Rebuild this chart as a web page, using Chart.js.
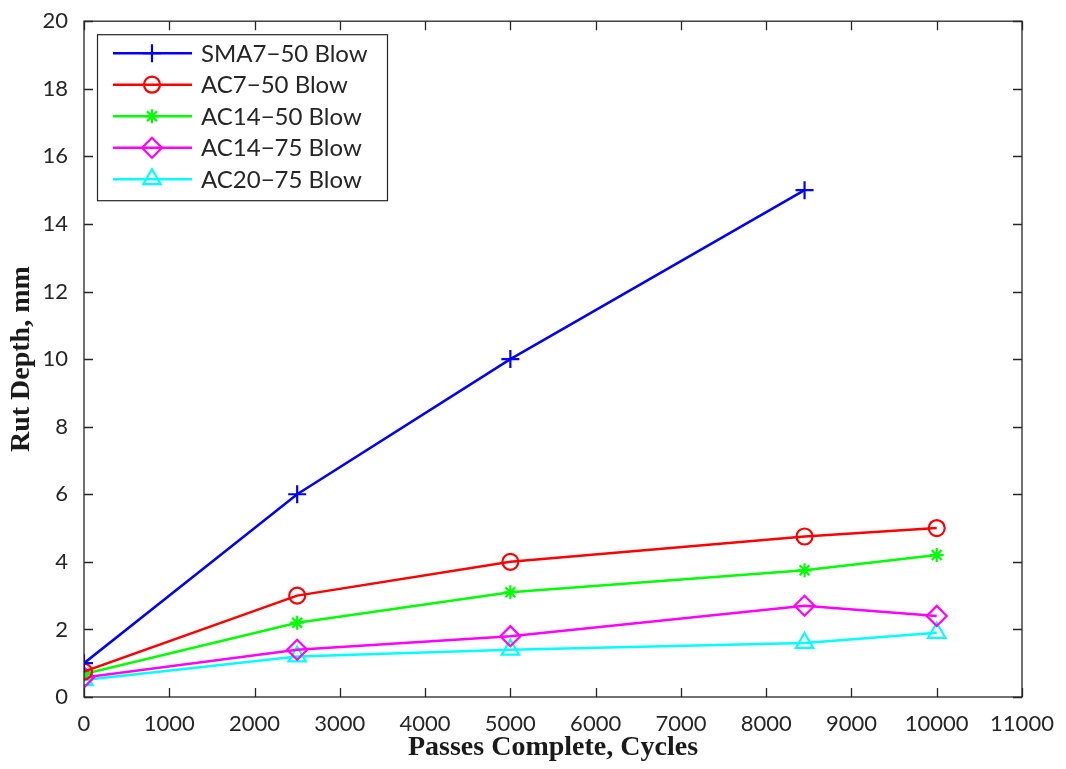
<!DOCTYPE html>
<html>
<head>
<meta charset="utf-8">
<title>Rut Depth vs Passes</title>
<script src="https://cdn.jsdelivr.net/npm/chart.js@4.4.1/dist/chart.umd.min.js"></script>
<style>
  html, body { margin: 0; padding: 0; background: #fff; }
  #wrap { width: 1066px; height: 769px; }
</style>
</head>
<body>
<div id="wrap"><canvas id="rut-chart" width="1066" height="769"></canvas></div>
<script>
// passes at which rut depth was measured
const passes = [0, 2500, 5000, 8450, 10000];

// rut depth (mm) per mix
const sma7_50 = [1.0, 6.0, 10.0, 15.0];
const ac7_50 = [0.75, 3.0, 4.0, 4.75, 5.0];
const ac14_50 = [0.68, 2.2, 3.1, 3.75, 4.2];
const ac14_75 = [0.58, 1.4, 1.8, 2.7, 2.4];
const ac20_75 = [0.5, 1.2, 1.4, 1.6, 1.9];

const seriesNames = ['SMA7\u221250 Blow', 'AC7\u221250 Blow', 'AC14\u221250 Blow', 'AC14\u221275 Blow', 'AC20\u221275 Blow'];
const seriesColors = ['#0000ff', '#ff0000', '#00ff00', '#ff00ff', '#00ffff'];
const seriesMarkers = ['cross', 'circle', 'star', 'rectRot', 'triangle'];
const markerSizes = [9, 8, 7, 10, 10];

const xTicks = [0, 1000, 2000, 3000, 4000, 5000, 6000, 7000, 8000, 9000, 10000, 11000];
const yTicks = [0, 2, 4, 6, 8, 10, 12, 14, 16, 18, 20];

const AXIS_COLOR = '#262626';
const SANS = 'Lato, "Noto Sans", sans-serif';
const TICK_FONT = { family: SANS, size: 22 };
const TITLE_FONT = { family: '"Liberation Serif", "Times New Roman", serif', size: 28, weight: 'bold' };

function toPoints(values) {
    return values.map((v, i) => ({ x: passes[i], y: v }));
}

const allSeries = [sma7_50, ac7_50, ac14_50, ac14_75, ac20_75];

const datasets = allSeries.map((vals, i) => ({
    label: seriesNames[i],
    data: toPoints(vals),
    showLine: true,
    borderColor: seriesColors[i],
    backgroundColor: 'rgba(0,0,0,0)',
    borderWidth: 2.5,
    pointStyle: seriesMarkers[i],
    pointRadius: markerSizes[i],
    pointBorderColor: seriesColors[i],
    pointBackgroundColor: 'rgba(0,0,0,0)',
    pointBorderWidth: 2.2,
    pointHoverRadius: markerSizes[i],
    tension: 0
}));

// box around the plot with inward ticks on all four sides
const axesBox = {
    id: 'axesBox',
    afterDatasetsDraw(chart) {
        const { ctx, chartArea: a, scales } = chart;
        const len = 9;
        ctx.save();
        ctx.strokeStyle = AXIS_COLOR;
        ctx.lineWidth = 1.3;
        ctx.strokeRect(a.left, a.top, a.right - a.left, a.bottom - a.top);
        ctx.beginPath();
        xTicks.forEach(t => {
            const px = Math.round(scales.x.getPixelForValue(t)) + 0.5;
            ctx.moveTo(px, a.bottom); ctx.lineTo(px, a.bottom - len);
            ctx.moveTo(px, a.top); ctx.lineTo(px, a.top + len);
        });
        yTicks.forEach(t => {
            const py = Math.round(scales.y.getPixelForValue(t)) + 0.5;
            ctx.moveTo(a.left, py); ctx.lineTo(a.left + len, py);
            ctx.moveTo(a.right, py); ctx.lineTo(a.right - len, py);
        });
        ctx.stroke();
        ctx.restore();
    }
};

// legend box in the upper-left corner of the plot
const boxLegend = {
    id: 'boxLegend',
    afterDraw(chart) {
        const { ctx, chartArea: a } = chart;
        const left = a.left + 13, top = a.top + 13;
        const w = 290, h = 166;
        const rowH = 31.5;
        ctx.save();
        ctx.fillStyle = '#fff';
        ctx.fillRect(left, top, w, h);
        ctx.strokeStyle = AXIS_COLOR;
        ctx.lineWidth = 1.2;
        ctx.strokeRect(left + 0.5, top + 0.5, w, h);
        chart.data.datasets.forEach((ds, i) => {
            const cy = top + 19 + i * rowH;
            ctx.strokeStyle = ds.borderColor;
            ctx.lineWidth = 2.5;
            ctx.beginPath();
            ctx.moveTo(left + 16, cy);
            ctx.lineTo(left + 95, cy);
            ctx.stroke();
            ctx.lineWidth = 2.2;
            ctx.fillStyle = 'rgba(0,0,0,0)';
            Chart.helpers.drawPoint(ctx, {
                pointStyle: ds.pointStyle,
                radius: ds.pointRadius,
                rotation: 0,
                borderWidth: 2.2
            }, left + 55, cy);
            ctx.fillStyle = AXIS_COLOR;
            ctx.font = '24px ' + SANS;
            ctx.textBaseline = 'middle';
            ctx.textAlign = 'left';
            ctx.fillText(ds.label, left + 104, cy + 1);
        });
        ctx.restore();
    }
};

new Chart(document.getElementById('rut-chart'), {
    type: 'scatter',
    data: { datasets },
    options: {
        responsive: false,
        animation: false,
        layout: { padding: { left: 0, top: 20, right: 44, bottom: 0 } },
        plugins: {
            legend: { display: false },
            tooltip: { enabled: false }
        },
        scales: {
            x: {
                type: 'linear',
                min: 0,
                max: 11000,
                afterBuildTicks: (s) => { s.ticks = xTicks.map(v => ({ value: v })); },
                afterFit: (s) => { s.height = 72; },
                grid: { display: false },
                border: { display: false },
                ticks: {
                    color: AXIS_COLOR,
                    font: TICK_FONT,
                    padding: 6,
                    maxRotation: 0,
                    autoSkip: false,
                    callback: v => String(v)
                },
                title: {
                    display: true,
                    text: 'Passes Complete, Cycles',
                    color: '#1a1a1a',
                    font: TITLE_FONT,
                    padding: { top: 0, bottom: 4 }
                }
            },
            y: {
                type: 'linear',
                min: 0,
                max: 20,
                afterBuildTicks: (s) => { s.ticks = yTicks.map(v => ({ value: v })); },
                afterFit: (s) => { s.width = 84; },
                grid: { display: false },
                border: { display: false },
                ticks: {
                    color: AXIS_COLOR,
                    font: TICK_FONT,
                    padding: 8,
                    autoSkip: false,
                    callback: v => String(v)
                },
                title: {
                    display: true,
                    text: 'Rut Depth, mm',
                    color: '#1a1a1a',
                    font: TITLE_FONT,
                    padding: { top: 5, bottom: 0 }
                }
            }
        }
    },
    plugins: [axesBox, boxLegend]
});
</script>
</body>
</html>
